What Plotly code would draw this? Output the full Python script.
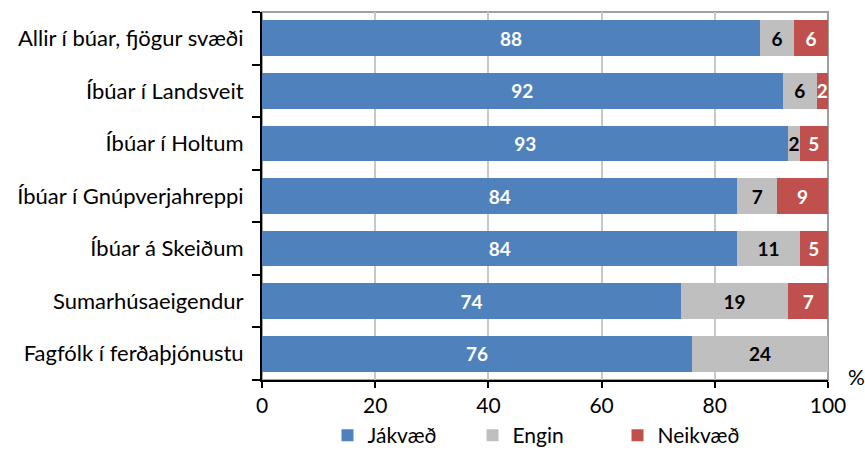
import plotly.graph_objects as go

categories = [
    "Allir í búar, fjögur svæði",
    "Íbúar í Landsveit",
    "Íbúar í Holtum",
    "Íbúar í Gnúpverjahreppi",
    "Íbúar á Skeiðum",
    "Sumarhúsaeigendur",
    "Fagfólk í ferðaþjónustu",
]
jakvaed = [88, 92, 93, 84, 84, 74, 76]
engin = [6, 6, 2, 7, 11, 19, 24]
neikvaed = [6, 2, 5, 9, 5, 7, 0]
x_ticks = [0, 20, 40, 60, 80, 100]

FONT = "Lato"

series = [
    ("Jákvæð", jakvaed, "#4F81BD", "white"),
    ("Engin", engin, "#BFBFBF", "black"),
    ("Neikvæð", neikvaed, "#C0504D", "white"),
]

fig = go.Figure()
for name, vals, color, tcolor in series:
    fig.add_trace(go.Bar(
        y=categories, x=vals, name=name, orientation="h",
        marker=dict(color=color, line=dict(width=0)),
        text=[str(v) if v else "" for v in vals],
        textposition="inside", insidetextanchor="middle",
        textfont=dict(family=FONT, size=19, color=tcolor, weight="bold"),
        cliponaxis=False,
    ))

fig.update_layout(
    barmode="stack",
    bargap=0.32,
    width=865, height=456,
    margin=dict(l=262, r=37, t=12, b=76, autoexpand=False),
    plot_bgcolor="white", paper_bgcolor="white",
    font=dict(family=FONT, size=22, color="black"),
    uniformtext=dict(minsize=19, mode="show"),
    legend=dict(orientation="h", x=0.5, xanchor="center", yref="container", y=0,
                yanchor="bottom", font=dict(size=21), traceorder="normal", itemwidth=30,
                entrywidth=100, entrywidthmode="pixels"),
    xaxis=dict(range=[0, 100], tickvals=x_ticks, showgrid=True, gridcolor="#C8C8C8",
               gridwidth=1.5, zeroline=False, showline=True, linecolor="black", linewidth=2,
               ticks="outside", ticklen=6, tickcolor="black", tickwidth=2,
               tickfont=dict(size=21), automargin=False),
    yaxis=dict(categoryorder="array", categoryarray=categories[::-1], showline=True,
               linecolor="black", linewidth=2, ticks="outside", tickson="boundaries",
               ticklen=8, tickcolor="black", tickwidth=2, ticklabelstandoff=12,
               tickfont=dict(size=22), automargin=False),
    shapes=[dict(type="rect", xref="paper", yref="paper", x0=0, x1=1, y0=0, y1=1,
                 line=dict(color="#A0A0A0", width=2), layer="below")],
    annotations=[dict(text="%", xref="paper", yref="paper", x=1.05, y=0.01,
                      showarrow=False, font=dict(size=21), xanchor="center",
                      yanchor="middle")],
)

# drop the browser's default body margin so the figure sits at the page origin
fig.write_html("out.html", config={"displayModeBar": False},
               post_script="document.body.style.margin='0';")
